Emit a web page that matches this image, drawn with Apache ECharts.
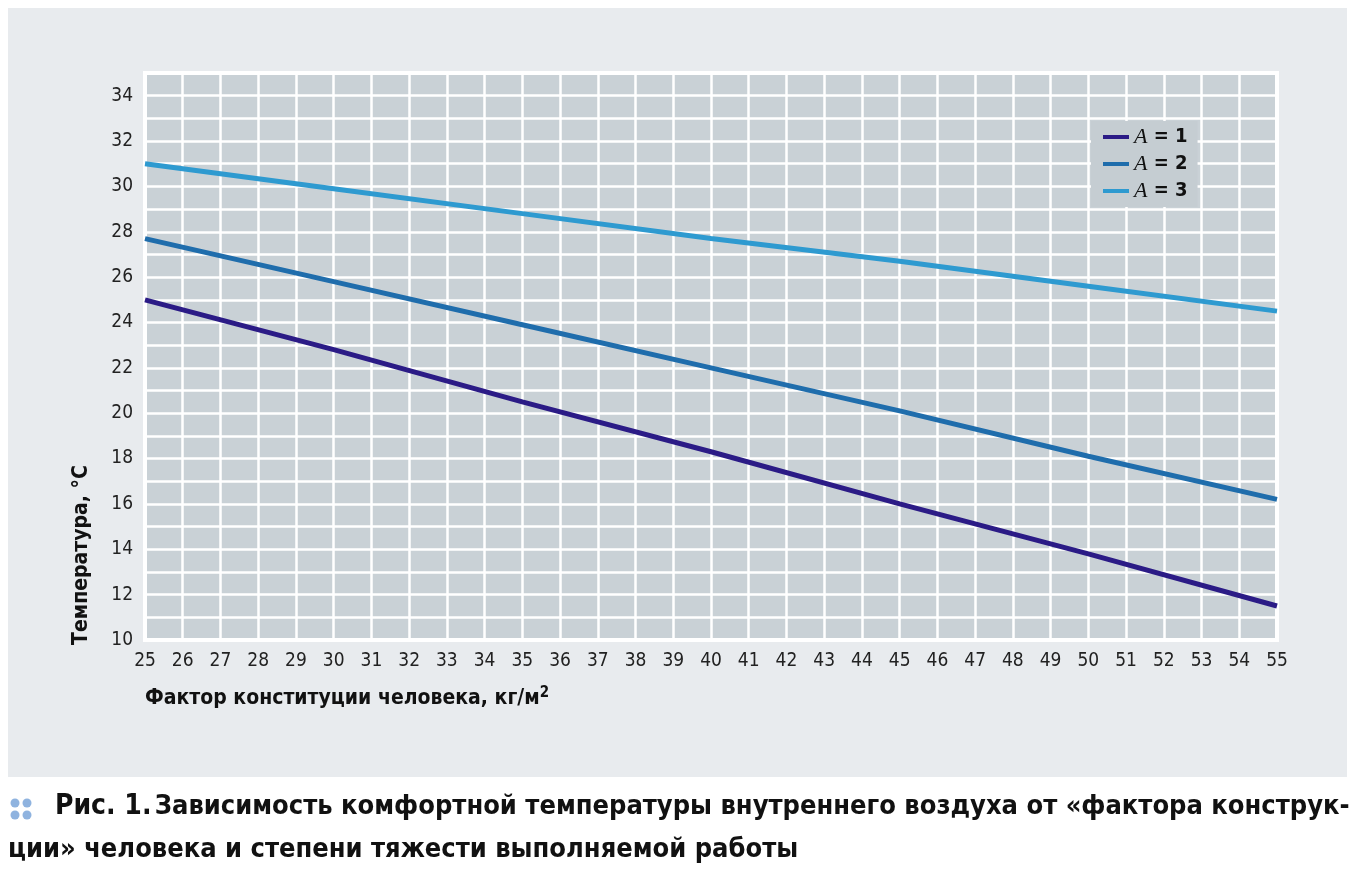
<!DOCTYPE html>
<html><head><meta charset="utf-8">
<script src="https://cdn.jsdelivr.net/npm/echarts@6/dist/echarts.min.js"></script>
<style>html,body{margin:0;padding:0;background:#fff}#c{width:1359px;height:879px}</style>
</head><body><div id="c"></div>
<script>
const xValues = [25, 30, 35, 40, 45, 50, 55];
const seriesA1 = [25.0, 22.8, 20.5, 18.3, 16.0, 13.8, 11.5];
const seriesA2 = [27.7, 25.8, 23.9, 22.0, 20.1, 18.1, 16.2];
const seriesA3 = [31.0, 29.9, 28.8, 27.7, 26.7, 25.6, 24.5];
const seriesNames = ['A = 1', 'A = 2', 'A = 3'];
const colors = ['#2b1b86', '#1f6dac', '#2e9ad0'];
const xTitle = 'Фактор конституции человека, кг/м';
const yTitle = 'Температура, °C';
const captionBold = 'Рис. 1.';
const captionLine1 = 'Зависимость комфортной температуры внутреннего воздуха от «фактора конструк-';
const captionLine2 = 'ции» человека и степени тяжести выполняемой работы';

const narrow = "'Liberation Sans Narrow','DejaVu Sans Condensed','Noto Sans',sans-serif";
const chart = echarts.init(document.getElementById('c'));
const toPairs = arr => xValues.map((x, i) => [x, arr[i]]);
const data = [seriesA1, seriesA2, seriesA3];

chart.setOption({
  backgroundColor: '#ffffff',
  animation: false,
  grid: {left: 145, right: 82, top: 73, bottom: 239, show: true,
         backgroundColor: '#c9d1d6', borderColor: '#ffffff', borderWidth: 4},
  xAxis: {type: 'value', min: 25, max: 55, interval: 1,
    axisLine: {show: false}, axisTick: {show: false},
    splitLine: {lineStyle: {color: '#ffffff', width: 2.5}},
    axisLabel: {margin: 12, color: '#222', fontSize: 19, fontFamily: narrow}},
  yAxis: {type: 'value', min: 10, max: 35, interval: 1,
    axisLine: {show: false}, axisTick: {show: false},
    splitLine: {lineStyle: {color: '#ffffff', width: 2.5}},
    axisLabel: {margin: 12, color: '#222', fontSize: 19, fontFamily: narrow,
      formatter: v => (v % 2 === 0 && v <= 34) ? String(v) : ''}},
  legend: {orient: 'vertical', left: 1091, top: 121, itemWidth: 26, itemHeight: 4,
    itemGap: 5, backgroundColor: '#c5cdd2', borderRadius: 0, padding: [5, 10, 5, 12],
    icon: 'rect',
    formatter: n => '{i|A}{t|' + n.slice(1) + '}',
    textStyle: {rich: {
      i: {fontFamily: "'Liberation Serif','DejaVu Serif',serif", fontStyle: 'italic', fontSize: 22, color: '#111'},
      t: {fontFamily: narrow, fontWeight: 'bold', fontSize: 20, color: '#111'}}},
    data: seriesNames},
  series: data.map((d, i) => ({
    name: seriesNames[i], type: 'line', data: toPairs(d), showSymbol: false,
    lineStyle: {color: colors[i], width: 5}, itemStyle: {color: colors[i]}})),
  graphic: [
    {type: 'rect', z: -10, shape: {x: 8, y: 8, width: 1339, height: 769}, style: {fill: '#e8ebee'}},
    {type: 'text', left: 145, top: 686, style: {
      text: '{a|' + xTitle + '}{s|2}',
      rich: {a: {fontFamily: narrow, fontWeight: 'bold', fontSize: 21, fill: '#111'},
             s: {fontFamily: narrow, fontWeight: 'bold', fontSize: 15, fill: '#111', verticalAlign: 'top', padding: [0,0,10,0]}}}},
    {type: 'text', x: 82, y: 645, rotation: Math.PI / 2, style: {
      text: yTitle, fontFamily: narrow, fontWeight: 'bold', fontSize: 21, fill: '#111',
      align: 'left', verticalAlign: 'middle'}},
    {type: 'circle', shape: {cx: 15, cy: 803, r: 4.5}, style: {fill: '#8fb3df'}},
    {type: 'circle', shape: {cx: 27, cy: 803, r: 4.5}, style: {fill: '#8fb3df'}},
    {type: 'circle', shape: {cx: 15, cy: 815, r: 4.5}, style: {fill: '#8fb3df'}},
    {type: 'circle', shape: {cx: 27, cy: 815, r: 4.5}, style: {fill: '#8fb3df'}},
    {type: 'text', left: 55, top: 793, style: {
      text: '{b|' + captionBold + '} {n|' + captionLine1 + '}',
      rich: {b: {fontFamily: narrow, fontWeight: 'bold', fontSize: 28, fill: '#111'},
             n: {fontFamily: narrow, fontWeight: 'bold', fontSize: 27, fill: '#111'}}}},
    {type: 'text', left: 8, top: 836, style: {
      text: captionLine2, fontFamily: narrow, fontWeight: 'bold', fontSize: 27, fill: '#111'}}
  ]
});
</script></body></html>
